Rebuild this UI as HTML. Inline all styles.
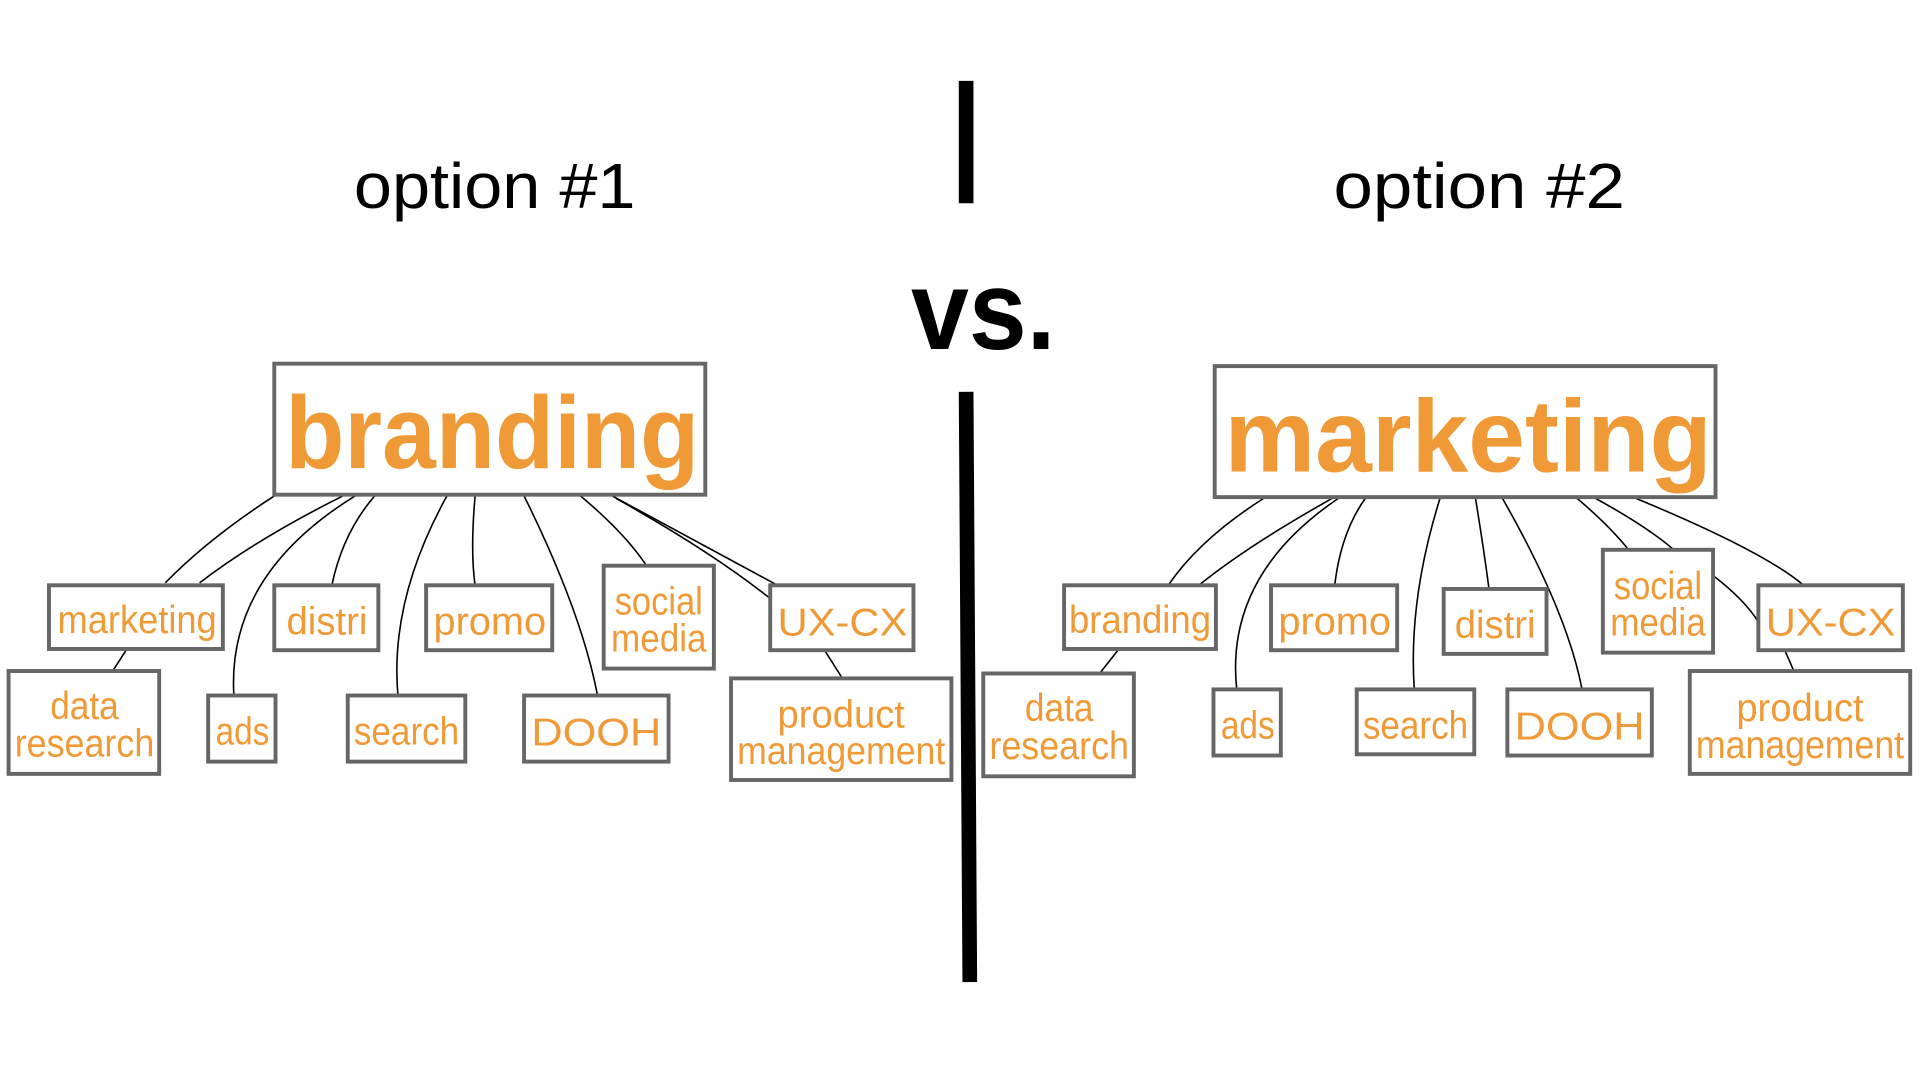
<!DOCTYPE html>
<html><head><meta charset="utf-8"><style>
html,body{margin:0;padding:0;background:#fff;}
svg{display:block;}
.b{fill:#fff;stroke:#666;stroke-width:3.2;}
.c{fill:none;stroke:#000;stroke-width:1.3;}
.t{fill:#f09a37;font-family:"Liberation Sans",sans-serif;font-size:32px;text-anchor:middle;}
.T{fill:#f09a37;font-family:"Liberation Sans",sans-serif;font-weight:bold;font-size:84px;text-anchor:middle;}
</style></head><body>
<svg width="1920" height="1080" viewBox="0 0 1568 882" xmlns="http://www.w3.org/2000/svg">
<text x="404" y="170" font-family="Liberation Sans,sans-serif" font-size="52" text-anchor="middle" textLength="230" lengthAdjust="spacingAndGlyphs">option #1</text>
<text x="1208" y="170" font-family="Liberation Sans,sans-serif" font-size="52" text-anchor="middle" textLength="238" lengthAdjust="spacingAndGlyphs">option #2</text>
<text x="803" y="285" font-family="Liberation Sans,sans-serif" font-weight="bold" font-size="92" text-anchor="middle" textLength="118" lengthAdjust="spacingAndGlyphs">vs.</text>
<line x1="789" y1="66" x2="789" y2="166" stroke="#000" stroke-width="12"/>
<line x1="789" y1="320" x2="792" y2="802" stroke="#000" stroke-width="12"/>

<path class="c" d="M224,405 Q170,440 135,476"/>
<path class="c" d="M280,405 Q210,440 163,476"/>
<path class="c" d="M290,405 Q185,470 191,568"/>
<path class="c" d="M306,405 Q280,435 271,478"/>
<path class="c" d="M365,405 Q318,490 325,568"/>
<path class="c" d="M388,405 Q384,450 388,478"/>
<path class="c" d="M428,405 Q475,500 488,568"/>
<path class="c" d="M474,405 Q510,435 528,462"/>
<path class="c" d="M500,405 L635,478"/>
<path class="c" d="M503,407 Q580,450 628,488"/>
<path class="c" d="M103,531 L92,548"/>
<path class="c" d="M674,532 L688,554"/>
<path class="c" d="M1032,407 Q980,440 954,478"/>
<path class="c" d="M1088,407 Q1020,445 979,478"/>
<path class="c" d="M1093,407 Q1000,470 1010,563"/>
<path class="c" d="M1115,407 Q1095,435 1090,478"/>
<path class="c" d="M1176,407 Q1150,490 1155,563"/>
<path class="c" d="M1205,407 Q1212,450 1216,481"/>
<path class="c" d="M1227,407 Q1280,500 1292,563"/>
<path class="c" d="M1288,407 Q1315,430 1330,449"/>
<path class="c" d="M1303,407 Q1345,430 1367,449"/>
<path class="c" d="M1336,407 Q1440,450 1473,478"/>
<path class="c" d="M1399,470 Q1425,490 1436,508"/>
<path class="c" d="M913,531 L898,550"/>
<path class="c" d="M1458,532 L1465,548"/>

<rect class="b" x="224" y="297" width="352" height="107"/>
<text class="T" x="402" y="382" textLength="338" lengthAdjust="spacingAndGlyphs">branding</text>
<rect class="b" x="40" y="478" width="142" height="52"/><text class="t" x="112" y="517" textLength="130" lengthAdjust="spacingAndGlyphs">marketing</text>
<rect class="b" x="7" y="548" width="123" height="84"/><text class="t" x="69" y="587" textLength="56" lengthAdjust="spacingAndGlyphs">data</text><text class="t" x="69" y="618" textLength="114" lengthAdjust="spacingAndGlyphs">research</text>
<rect class="b" x="170" y="568" width="55" height="54"/><text class="t" x="198" y="608" textLength="44" lengthAdjust="spacingAndGlyphs">ads</text>
<rect class="b" x="224" y="478" width="85" height="53"/><text class="t" x="267" y="518" textLength="66" lengthAdjust="spacingAndGlyphs">distri</text>
<rect class="b" x="284" y="568" width="96" height="54"/><text class="t" x="332" y="608" textLength="86" lengthAdjust="spacingAndGlyphs">search</text>
<rect class="b" x="348" y="478" width="103" height="53"/><text class="t" x="400" y="518" textLength="92" lengthAdjust="spacingAndGlyphs">promo</text>
<rect class="b" x="428" y="568" width="118" height="54"/><text class="t" x="487" y="609" textLength="106" lengthAdjust="spacingAndGlyphs">DOOH</text>
<rect class="b" x="493" y="462" width="90" height="84"/><text class="t" x="538" y="502" textLength="72" lengthAdjust="spacingAndGlyphs">social</text><text class="t" x="538" y="532" textLength="78" lengthAdjust="spacingAndGlyphs">media</text>
<rect class="b" x="629" y="478" width="117" height="53"/><text class="t" x="688" y="519" textLength="106" lengthAdjust="spacingAndGlyphs">UX-CX</text>
<rect class="b" x="597" y="554" width="180" height="83"/><text class="t" x="687" y="594" textLength="104" lengthAdjust="spacingAndGlyphs">product</text><text class="t" x="687" y="624" textLength="170" lengthAdjust="spacingAndGlyphs">management</text>

<rect class="b" x="992" y="299" width="409" height="107"/>
<text class="T" x="1199" y="385" textLength="398" lengthAdjust="spacingAndGlyphs">marketing</text>
<rect class="b" x="869" y="478" width="124" height="52"/><text class="t" x="931" y="517" textLength="116" lengthAdjust="spacingAndGlyphs">branding</text>
<rect class="b" x="803" y="550" width="123" height="84"/><text class="t" x="865" y="589" textLength="56" lengthAdjust="spacingAndGlyphs">data</text><text class="t" x="865" y="620" textLength="114" lengthAdjust="spacingAndGlyphs">research</text>
<rect class="b" x="991" y="563" width="55" height="54"/><text class="t" x="1019" y="603" textLength="44" lengthAdjust="spacingAndGlyphs">ads</text>
<rect class="b" x="1038" y="478" width="103" height="53"/><text class="t" x="1090" y="518" textLength="92" lengthAdjust="spacingAndGlyphs">promo</text>
<rect class="b" x="1108" y="563" width="96" height="53"/><text class="t" x="1156" y="603" textLength="86" lengthAdjust="spacingAndGlyphs">search</text>
<rect class="b" x="1179" y="481" width="84" height="53"/><text class="t" x="1221" y="521" textLength="66" lengthAdjust="spacingAndGlyphs">distri</text>
<rect class="b" x="1231" y="563" width="118" height="54"/><text class="t" x="1290" y="604" textLength="106" lengthAdjust="spacingAndGlyphs">DOOH</text>
<rect class="b" x="1309" y="449" width="90" height="84"/><text class="t" x="1354" y="489" textLength="72" lengthAdjust="spacingAndGlyphs">social</text><text class="t" x="1354" y="519" textLength="78" lengthAdjust="spacingAndGlyphs">media</text>
<rect class="b" x="1436" y="478" width="118" height="53"/><text class="t" x="1495" y="519" textLength="106" lengthAdjust="spacingAndGlyphs">UX-CX</text>
<rect class="b" x="1380" y="548" width="180" height="84"/><text class="t" x="1470" y="589" textLength="104" lengthAdjust="spacingAndGlyphs">product</text><text class="t" x="1470" y="619" textLength="170" lengthAdjust="spacingAndGlyphs">management</text>
</svg>
</body></html>
